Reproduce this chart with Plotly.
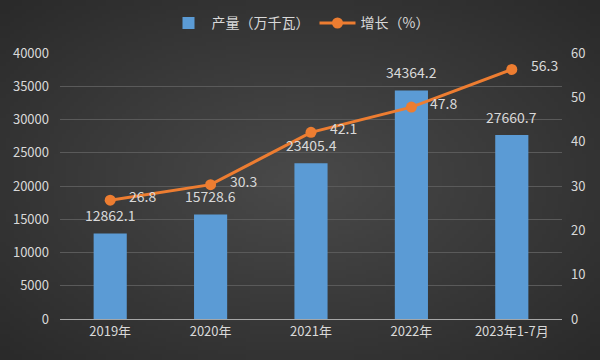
import base64, struct, zlib
import numpy as np
import plotly.graph_objects as go

categories = ["2019年", "2020年", "2021年", "2022年", "2023年1-7月"]
output_vals = [12862.1, 15728.6, 23405.4, 34364.2, 27660.7]
growth_vals = [26.8, 30.3, 42.1, 47.8, 56.3]
left_ticks = [0, 5000, 10000, 15000, 20000, 25000, 30000, 35000, 40000]
right_ticks = [0, 10, 20, 30, 40, 50, 60]

font_family = "Noto Sans CJK SC, Microsoft YaHei, sans-serif"
txt_color = "#d9d9d9"
FS = 13

# radial gradient background as PNG
def make_bg(w=150, h=90):
    yy, xx = np.mgrid[0:h, 0:w]
    dx = (xx - (w - 1) / 2) / ((w - 1) / 2)
    dy = (yy - (h - 1) / 2) / ((h - 1) / 2)
    d = np.sqrt(dx ** 2 + dy ** 2) / np.sqrt(2)
    v = (74 - (74 - 42) * d).clip(0, 255).astype(np.uint8)
    rows = b"".join(b"\x00" + bytes(np.repeat(v[r], 3).tolist()) for r in range(h))
    def chunk(t, data):
        c = struct.pack(">I", len(data)) + t + data
        return c + struct.pack(">I", zlib.crc32(t + data) & 0xffffffff)
    png = b"\x89PNG\r\n\x1a\n" + chunk(b"IHDR", struct.pack(">IIBBBBB", w, h, 8, 2, 0, 0, 0)) \
        + chunk(b"IDAT", zlib.compress(rows)) + chunk(b"IEND", b"")
    return "data:image/png;base64," + base64.b64encode(png).decode()

W, H = 600, 360
ml, mr, mt, mb = 60, 38, 53, 41
pw, ph = W - ml - mr, H - mt - mb

fig = go.Figure()
fig.add_trace(go.Bar(
    x=categories, y=output_vals, name="产量（万千瓦）",
    marker=dict(color="#5b9bd5", line=dict(width=0)),
    width=0.33,
))
fig.add_trace(go.Scatter(
    x=categories, y=growth_vals, name="增长（%）", yaxis="y2",
    mode="lines+markers",
    line=dict(color="#ED7D31", width=3),
    marker=dict(color="#ED7D31", size=11),
    cliponaxis=False,
))
for c, v in zip(categories, output_vals):
    fig.add_annotation(x=c, y=v, xref="x", yref="y", text=f"{v:.1f}", showarrow=False,
                       yanchor="bottom", yshift=7, borderpad=0,
                       font=dict(color=txt_color, size=FS + 1))
for c, v in zip(categories, growth_vals):
    fig.add_annotation(x=c, y=v, xref="x", yref="y2", text=f"{v:.1f}", showarrow=False,
                       xanchor="left", yanchor="middle", xshift=18, yshift=4, borderpad=0,
                       font=dict(color=txt_color, size=FS + 1))

fig.add_layout_image(dict(source=make_bg(), xref="paper", yref="paper",
                          x=-ml / pw, y=1 + mt / ph, sizex=W / pw, sizey=H / ph,
                          xanchor="left", yanchor="top", sizing="stretch", layer="below"))

fig.update_layout(
    width=W, height=H,
    paper_bgcolor="#3b3b3b", plot_bgcolor="rgba(0,0,0,0)",
    margin=dict(l=ml, r=mr, t=mt, b=mb, autoexpand=False),
    font=dict(family=font_family, color=txt_color, size=FS),
    bargap=0.67,
    showlegend=True,
    legend=dict(orientation="h", x=0.5, xanchor="center", xref="container",
                y=0.935, yanchor="middle", yref="container",
                font=dict(size=FS + 1, color=txt_color), bgcolor="rgba(0,0,0,0)",
                itemwidth=36),
    xaxis=dict(showgrid=False, showline=True, linecolor="#a6a6a6", linewidth=1,
               ticks="", tickfont=dict(size=FS, color=txt_color), automargin=False),
    yaxis=dict(range=[0, 40000], tickvals=left_ticks, tickformat="d", showgrid=True,
               gridcolor="#5a5a5a", gridwidth=1, zeroline=False,
               tickfont=dict(size=FS, color=txt_color), ticks="",
               ticklabelstandoff=10, automargin=False),
    yaxis2=dict(range=[0, 60], tickvals=right_ticks, overlaying="y", side="right",
                showgrid=False, zeroline=False, tickfont=dict(size=FS, color=txt_color),
                ticklabelstandoff=8, automargin=False),
)

fig.write_html("out.html", config={"displayModeBar": False},
               post_script="document.body.style.margin='0';document.body.style.overflow='hidden';")
